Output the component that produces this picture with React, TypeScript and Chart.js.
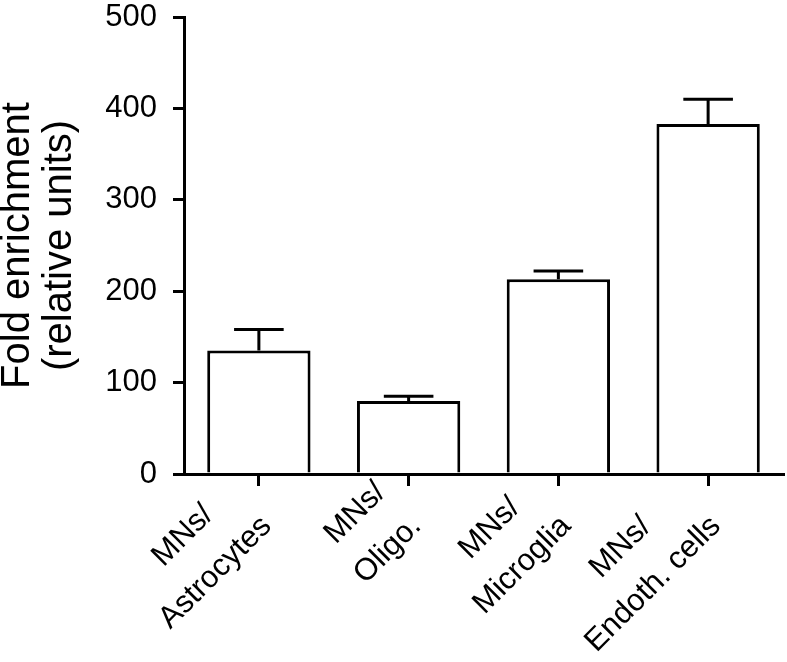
import React, { useEffect, useRef } from "react";
import { Chart, registerables } from "chart.js";

Chart.register(...registerables);

// ---- data ----
const categories: string[][] = [
  ["MNs/", "Astrocytes"],
  ["MNs/", "Oligo."],
  ["MNs/", "Microglia"],
  ["MNs/", "Endoth. cells"],
];
const values: number[] = [135, 80, 213, 383];
const errors: number[] = [23, 5, 9, 27];
const yTicks: number[] = [0, 100, 200, 300, 400, 500];
const yTitle: string[] = ["Fold enrichment", "(relative units)"];

const FONT = '"Liberation Sans", Arial, Helvetica, sans-serif';

const errorBarPlugin = {
  id: "errorBars",
  afterDatasetsDraw(chart: any) {
    const { ctx } = chart;
    const y = chart.scales.y;
    const meta = chart.getDatasetMeta(0);
    ctx.save();
    ctx.strokeStyle = "#000";
    ctx.lineWidth = 3;
    meta.data.forEach((bar: any, i: number) => {
      const top = y.getPixelForValue(values[i] + errors[i]);
      const base = y.getPixelForValue(values[i]);
      const half = bar.width * 0.24;
      ctx.beginPath();
      ctx.moveTo(bar.x, base);
      ctx.lineTo(bar.x, top);
      ctx.moveTo(bar.x - half, top);
      ctx.lineTo(bar.x + half, top);
      ctx.stroke();
    });
    ctx.restore();
  },
};

const xLabelPlugin = {
  id: "xLabels",
  afterDraw(chart: any) {
    const { ctx } = chart;
    const x = chart.scales.x;
    const y0 = x.top;
    ctx.save();
    ctx.font = `31px ${FONT}`;
    ctx.fillStyle = "#000";
    ctx.textAlign = "center";
    ctx.textBaseline = "middle";
    categories.forEach((lines, i) => {
      const px = x.getPixelForValue(i);
      const w = Math.max(...lines.map((l) => ctx.measureText(l).width));
      ctx.save();
      ctx.translate(px, y0);
      ctx.rotate(-Math.PI / 4);
      lines.forEach((l, j) =>
        ctx.fillText(l, -w / 2 - 28 + (j === 0 ? 3 : 0), -10 + j * 49)
      );
      ctx.restore();
    });
    ctx.restore();
  },
};

export default function App() {
  const ref = useRef<HTMLCanvasElement | null>(null);
  useEffect(() => {
    if (!ref.current) return;
    const chart = new Chart(ref.current, {
      type: "bar",
      data: {
        labels: categories.map((c) => c.join(" ")),
        datasets: [
          {
            data: values,
            backgroundColor: "#ffffff",
            borderColor: "#000000",
            borderWidth: 3,
            barPercentage: 0.69,
            categoryPercentage: 1,
          },
        ],
      },
      options: {
        responsive: false,
        animation: false,
        layout: { padding: { top: 17, right: 4, bottom: 0, left: 0 } },
        plugins: {
          legend: { display: false },
          tooltip: { enabled: false },
        },
        scales: {
          x: {
            z: 1,
            offset: true,
            grid: {
              offset: false,
              drawOnChartArea: false,
              drawTicks: true,
              tickLength: 12,
              lineWidth: 3,
              color: "#000",
            },
            border: { display: true, color: "#000", width: 3 },
            ticks: { display: false },
            afterFit: (s: any) => {
              s.height = 188;
              s.paddingLeft = 0;
              s.paddingRight = 0;
            },
          },
          y: {
            z: 1,
            min: 0,
            max: 500,
            afterBuildTicks: (s: any) => {
              s.ticks = yTicks.map((v) => ({ value: v }));
            },
            grid: {
              drawOnChartArea: false,
              drawTicks: true,
              tickLength: 11,
              lineWidth: 3,
              color: "#000",
            },
            border: { display: true, color: "#000", width: 3 },
            ticks: {
              color: "#000",
              padding: 16,
              font: { family: FONT, size: 31, lineHeight: 1.0 },
            },
            title: {
              display: true,
              text: yTitle,
              color: "#000",
              padding: { top: -3, bottom: 0 },
              font: { family: FONT, size: 40, lineHeight: 1.05 },
            },
            afterFit: (s: any) => {
              s.width = 184;
              s.paddingTop = 0;
              s.paddingBottom = 0;
            },
          },
        },
      },
      plugins: [errorBarPlugin, xLabelPlugin],
    });
    return () => chart.destroy();
  }, []);
  return (
    <div style={{ position: "fixed", left: 0, top: 0, width: 787, height: 662, background: "#fff" }}>
      <canvas ref={ref} width={787} height={662} style={{ display: "block" }} />
    </div>
  );
}
